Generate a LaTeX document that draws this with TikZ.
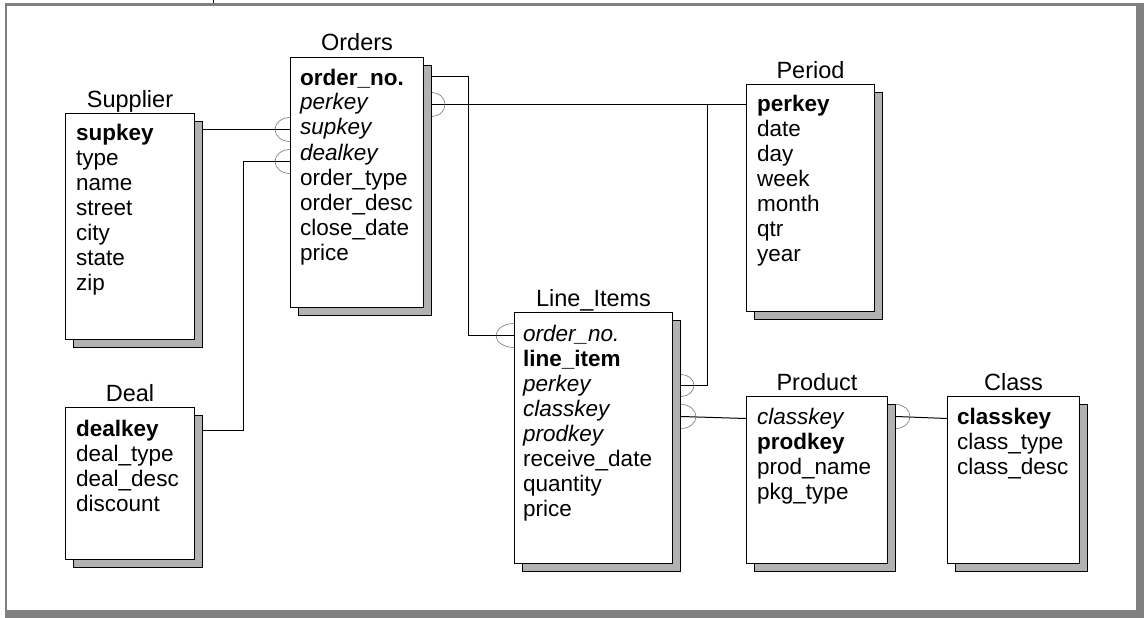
\documentclass[tikz,border=0pt]{standalone}
\usepackage{fontspec}
\setmainfont{Liberation Sans}
\usetikzlibrary{shadows,calc}

\tikzset{
  tbl/.style={draw, line width=1pt, fill=white, anchor=north west, inner sep=0pt,
    general shadow={fill=black!30, draw=black, line width=1pt, shadow xshift=8pt, shadow yshift=-8pt}},
  ttl/.style={anchor=base, inner sep=0pt, font=\fontsize{23.5}{26}\selectfont},
  fld/.style={anchor=base west, inner sep=0pt, text height=16pt, text depth=5pt,
    font=\fontsize{22.5}{25}\selectfont},
  link/.style={line width=1pt},
  foot/.style={draw=black!55, line width=0.6pt, x radius=15, y radius=12}
}

\begin{document}
\begin{tikzpicture}[x=1pt,y=-1pt]
\useasboundingbox (0,0) rectangle (1144,618);
% frame
\draw[black!50, line width=2.5pt] (6,618) -- (6,4.5) -- (1144,4.5);
\fill[black!50] (1136,3.3) rectangle (1144,618);
\fill[black!50] (4.8,610) rectangle (1144,618);
\draw[line width=1pt] (213,0) -- (213,3.3);

% Supplier
\node[tbl, minimum width=129pt, minimum height=226pt] (sup) at (65,113) {};
\node[ttl] (sup-t) at ([yshift=6pt]sup.north) {Supplier};
\node[fld] (s1) at (76,140) {\textbf{supkey}};
\node[fld] (s2) at (76,165) {type};
\node[fld] (s3) at (76,190) {name};
\node[fld] (s4) at (76,215) {street};
\node[fld] (s5) at (76,240) {city};
\node[fld] (s6) at (76,265) {state};
\node[fld] (s7) at (76,290) {zip};

% Orders
\node[tbl, minimum width=133pt, minimum height=250pt] (ord) at (290,57) {};
\node[ttl] (ord-t) at ([yshift=6pt]ord.north) {Orders};
\node[fld] (o1) at (300,85) {\textbf{order\_no.}};
\node[fld] (o2) at (300,110) {\textit{perkey}};
\node[fld] (o3) at (300,135) {\textit{supkey}};
\node[fld] (o4) at (300,160) {\textit{dealkey}};
\node[fld] (o5) at (300,185) {order\_type};
\node[fld] (o6) at (300,210) {order\_desc};
\node[fld] (o7) at (300,235) {close\_date};
\node[fld] (o8) at (300,260) {price};

% Deal
\node[tbl, minimum width=129pt, minimum height=152pt] (deal) at (65,407) {};
\node[ttl] (deal-t) at ([yshift=6pt]deal.north) {Deal};
\node[fld] (d1) at (76,436) {\textbf{dealkey}};
\node[fld] (d2) at (76,461) {deal\_type};
\node[fld] (d3) at (76,486) {deal\_desc};
\node[fld] (d4) at (76,511) {discount};

% Period
\node[tbl, minimum width=128pt, minimum height=227pt] (per) at (746,84) {};
\node[ttl] (per-t) at ([yshift=6pt]per.north) {Period};
\node[fld] (p1) at (757,111) {\textbf{perkey}};
\node[fld] (p2) at (757,136) {date};
\node[fld] (p3) at (757,161) {day};
\node[fld] (p4) at (757,186) {week};
\node[fld] (p5) at (757,211) {month};
\node[fld] (p6) at (757,236) {qtr};
\node[fld] (p7) at (757,261) {year};

% Line_Items
\node[tbl, minimum width=158pt, minimum height=251pt] (li) at (514,312) {};
\node[ttl] (li-t) at ([yshift=6pt]li.north) {Line\_Items};
\node[fld] (l1) at (523,341) {\textit{order\_no.}};
\node[fld] (l2) at (523,366) {\textbf{line\_item}};
\node[fld] (l3) at (523,391) {\textit{perkey}};
\node[fld] (l4) at (523,416) {\textit{classkey}};
\node[fld] (l5) at (523,441) {\textit{prodkey}};
\node[fld] (l6) at (523,466) {receive\_date};
\node[fld] (l7) at (523,491) {quantity};
\node[fld] (l8) at (523,516) {price};

% Product
\node[tbl, minimum width=141pt, minimum height=167pt] (pro) at (746,396) {};
\node[ttl] (pro-t) at ([yshift=6pt]pro.north) {Product};
\node[fld] (pr1) at (757,424) {\textit{classkey}};
\node[fld] (pr2) at (757,449) {\textbf{prodkey}};
\node[fld] (pr3) at (757,474) {prod\_name};
\node[fld] (pr4) at (757,499) {pkg\_type};

% Class
\node[tbl, minimum width=132pt, minimum height=167pt] (cls) at (947,396) {};
\node[ttl] (cls-t) at ([yshift=6pt]cls.north) {Class};
\node[fld] (c1) at (957,424) {\textbf{classkey}};
\node[fld] (c2) at (957,449) {class\_type};
\node[fld] (c3) at (957,474) {class\_desc};

% links
\draw[link] ($(sup.east |- o3)+(8,0)$) -- (ord.west |- o3);
\draw[foot] (ord.west |- o3) ++(0,12) arc[start angle=90, end angle=270];
\draw[link] ($(deal.east |- d1)+(8,0)$) -- ++(40,0) |- ($(ord.west |- o4)+(0,7)$);
\draw[foot] ($(ord.west |- o4)+(0,7)$) ++(0,12) arc[start angle=90, end angle=270];
\draw[link] ($(ord.east |- o1)+(8,-3)$) -- ++(36,0) |- (li.west |- l1);
\draw[foot] (li.west |- l1) ++(0,12) arc[start angle=90, end angle=270, x radius=18];
\draw[link] ($(ord.east |- o2)+(8,0)$) -- (per.west |- o2);
\draw[foot] ($(ord.east |- o2)+(8,0)$) ++(0,12) arc[start angle=90, end angle=-90, x radius=13];
\draw[link] ($(li.east |- l3)+(8,0)$) -- ++(26,0) |- (per.west |- o2);
\draw[foot] ($(li.east |- l3)+(8,0)$) ++(0,11) arc[start angle=90, end angle=-90, x radius=13, y radius=11];
\draw[link] ($(li.east |- pr1)+(8,-2)$) -- (pro.west |- pr1);
\draw[foot] ($(li.east |- pr1)+(8,-2)$) ++(0,12) arc[start angle=90, end angle=-90];
\draw[link] ($(pro.east |- c1)+(8,-2)$) -- (cls.west |- c1);
\draw[foot] ($(pro.east |- c1)+(8,-2)$) ++(0,12) arc[start angle=90, end angle=-90, x radius=14];
\end{tikzpicture}
\end{document}
